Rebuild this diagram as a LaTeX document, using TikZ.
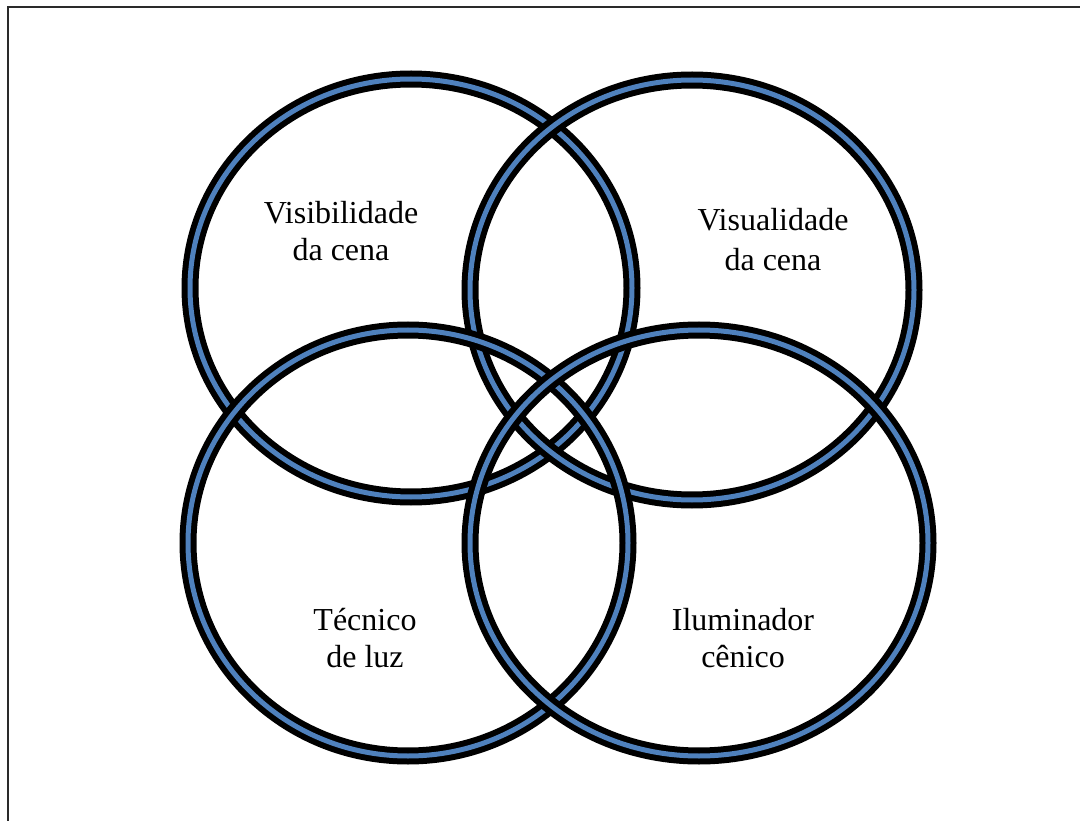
\documentclass[tikz,border=0pt]{standalone}
\usepackage{fontspec}
\setmainfont{Liberation Serif}
\definecolor{ringblue}{HTML}{4F81BD}
\definecolor{framegray}{HTML}{2A2A2A}
\begin{document}
\begin{tikzpicture}[x=1pt,y=-1pt,
  ringout/.style={line width=17pt, draw=black},
  ringin/.style={line width=5pt, draw=ringblue},
  lbl/.style={align=center, font=\fontsize{32}{37}\selectfont, inner sep=0pt}]
\useasboundingbox (0,0) rectangle (1080,821);
% frame (top and left edges)
\draw[framegray, line width=2pt] (8,821) -- (8,7) -- (1080,7);
% rings
\foreach \cx/\cy/\rx/\ry in {411/288/221/209, 692/290/222/210, 408/543/220/213, 699/543/229/213}{
  \draw[ringout] (\cx,\cy) ellipse [x radius=\rx pt, y radius=\ry pt];
  \draw[ringin] (\cx,\cy) ellipse [x radius=\rx pt, y radius=\ry pt];
}
% labels
\node[lbl] (vis) at (341,231) {Visibilidade\\da cena};
\node[lbl] (visu) at (773,240) {Visualidade\\[3pt]da cena};
\node[lbl] (tec) at (365,638) {Técnico\\de luz};
\node[lbl] (ilu) at (743,638) {Iluminador\\cênico};
\end{tikzpicture}
\end{document}
